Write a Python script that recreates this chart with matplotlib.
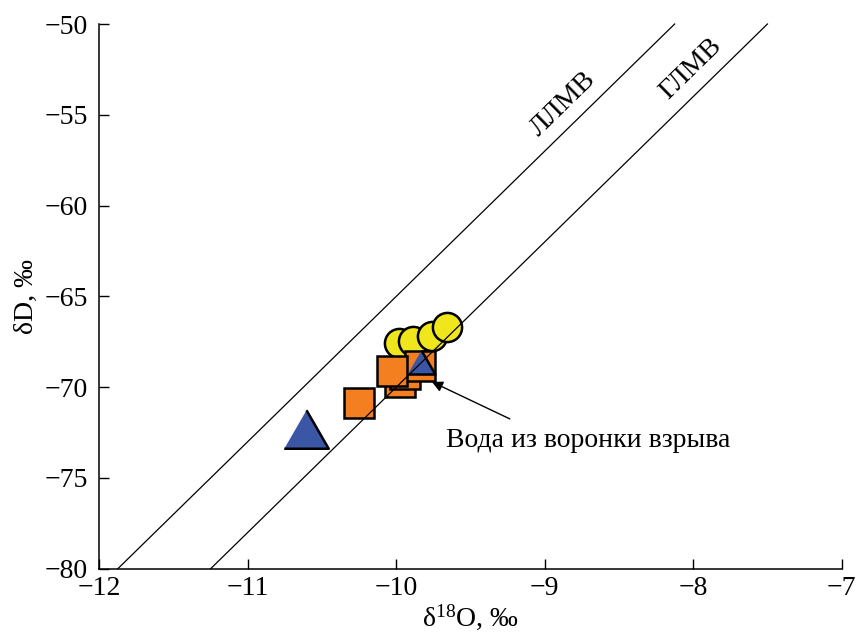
import numpy as np
import matplotlib
matplotlib.use("Agg")
import matplotlib.pyplot as plt

plt.rcParams['font.family'] = ['Liberation Serif', 'DejaVu Serif']
plt.rcParams['mathtext.fontset'] = 'custom'
plt.rcParams['mathtext.rm'] = 'Liberation Serif'
plt.rcParams['mathtext.default'] = 'regular'

# Data (δ18O, δD)
circle_x = [-9.98, -9.89, -9.76, -9.66]
circle_y = [-67.57, -67.46, -67.18, -66.68]

square_x = [-9.976, -9.942, -9.840, -10.029, -10.249]
square_y = [-69.71, -69.27, -68.83, -69.11, -70.89]

tri_big_x = [-10.608]
tri_big_y = [-72.32]
tri_small_x = [-9.836]
tri_small_y = [-68.63]

# Meteoric water lines: δD = slope * δ18O + intercept
lmwl_slope, lmwl_intercept = 8.0, 15.0
gmwl_slope, gmwl_intercept = 8.0, 10.0
line_dD = [-80, -50]

xlim = (-12, -7)
ylim = (-80, -50)
xticks = [-12, -11, -10, -9, -8, -7]
yticks = [-80, -75, -70, -65, -60, -55, -50]

annot_text = "Вода из воронки взрыва"
annot_xy = (-9.76, -69.71)
annot_tail = (-9.235, -71.75)
annot_text_pos = (-9.667, -72.96)

lmwl_label = "ЛЛМВ"
gmwl_label = "ГЛМВ"
lmwl_label_pos = (-8.875, -54.41)
gmwl_label_pos = (-8.017, -52.48)

yellow = '#F0E61C'
orange = '#F47F20'
blue = '#3A56A5'

fig = plt.figure(figsize=(8.56, 6.37), dpi=100)
ax = fig.add_axes([99.3/856, 1-568.7/637, (841.7-99.3)/856, (568.7-24)/637])

tri = [(-1, -0.866), (1, -0.866), (0, 0.866)]

for x, y in zip(circle_x, circle_y):
    ax.plot([x], [y], marker='o', ms=21, mfc=yellow, mec='black', mew=1.8, ls='none', zorder=2)
for x, y in zip(square_x, square_y):
    ax.plot([x], [y], marker='s', ms=22, mfc=orange, mec='black', mew=1.8, ls='none', zorder=3)
ax.plot(tri_small_x, tri_small_y, marker=tri, ms=20, mfc=blue, mec='black', mew=1.8, ls='none', zorder=4)
ax.plot(tri_big_x, tri_big_y, marker=tri, ms=32, mfc=blue, mec='black', mew=1.8, ls='none', zorder=4)

for s, b in [(lmwl_slope, lmwl_intercept), (gmwl_slope, gmwl_intercept)]:
    yy = np.array(line_dD, dtype=float)
    xx = (yy - b) / s
    ax.plot(xx, yy, color='black', lw=0.9, zorder=5, clip_on=False)

ax.set_xlim(*xlim)
ax.set_ylim(*ylim)
ax.set_xticks(xticks)
ax.set_yticks(yticks)
ax.tick_params(direction='in', length=7, width=1, labelsize=20, pad=5)
ax.tick_params(axis='y', pad=8)
for sp in ['top', 'right']:
    ax.spines[sp].set_visible(False)
for sp in ['left', 'bottom']:
    ax.spines[sp].set_linewidth(1.1)

ax.set_xlabel('δ$^{18}$O, ‰', fontsize=20, labelpad=1)
ax.set_ylabel('δD, ‰', fontsize=20, labelpad=4)

# rotation angle of the lines in display space
p0 = ax.transData.transform((-10, gmwl_slope * -10 + gmwl_intercept))
p1 = ax.transData.transform((-9, gmwl_slope * -9 + gmwl_intercept))
ang = np.degrees(np.arctan2(p1[1] - p0[1], p1[0] - p0[0]))

ax.text(*lmwl_label_pos, lmwl_label, rotation=ang, rotation_mode='anchor', fontsize=20,
        ha='center', va='center')
ax.text(*gmwl_label_pos, gmwl_label, rotation=ang, rotation_mode='anchor', fontsize=20,
        ha='center', va='center')

ax.annotate('', xy=annot_xy, xytext=annot_tail,
            arrowprops=dict(arrowstyle='-|>', color='black', lw=1.0, mutation_scale=16,
                            shrinkA=0, shrinkB=0), zorder=6)
ax.text(*annot_text_pos, annot_text, fontsize=20, ha='left', va='center')

fig.savefig('out.png', dpi=100)
